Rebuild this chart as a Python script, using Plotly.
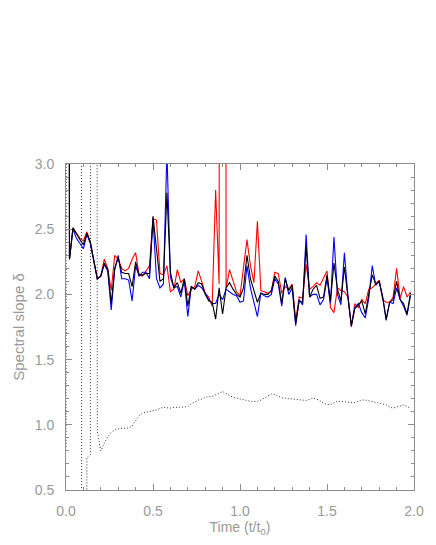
import plotly.graph_objects as go

# time grid (t/t0), one sample every 0.02
t = [0.00, 0.02, 0.04, 0.06, 0.08, 0.10, 0.12, 0.14, 0.16, 0.18,
     0.20, 0.22, 0.24, 0.26, 0.28, 0.30, 0.32, 0.34, 0.36, 0.38,
     0.40, 0.42, 0.44, 0.46, 0.48, 0.50, 0.52, 0.54, 0.56, 0.58,
     0.60, 0.62, 0.64, 0.66, 0.68, 0.70, 0.72, 0.74, 0.76, 0.78,
     0.80, 0.82, 0.84, 0.86, 0.88, 0.90, 0.92, 0.94, 0.96, 0.98,
     1.00, 1.02, 1.04, 1.06, 1.08, 1.10, 1.12, 1.14, 1.16, 1.18,
     1.20, 1.22, 1.24, 1.26, 1.28, 1.30, 1.32, 1.34, 1.36, 1.38,
     1.40, 1.42, 1.44, 1.46, 1.48, 1.50, 1.52, 1.54, 1.56, 1.58,
     1.60, 1.62, 1.64, 1.66, 1.68, 1.70, 1.72, 1.74, 1.76, 1.78,
     1.80, 1.82, 1.84, 1.86, 1.88, 1.90, 1.92, 1.94, 1.96, 1.98]

slope_black = [40.0, 2.27, 2.51, 2.46, 2.42, 2.38, 2.47, 2.40, 2.25, 2.12,
               2.14, 2.24, 2.19, 1.93, 2.20, 2.28, 2.17, 2.16, 2.16, 2.06,
               2.25, 2.15, 2.15, 2.16, 2.16, 2.60, 2.35, 2.10, 2.12, 2.78,
               2.17, 2.05, 2.09, 2.01, 2.12, 1.91, 2.06, 2.04, 2.09, 2.08,
               2.00, 1.95, 1.94, 1.81, 2.05, 1.85, 2.05, 2.09, 2.04, 2.00,
               1.98, 2.05, 2.30, 2.12, 2.03, 1.94, 2.01, 2.00, 2.00, 2.03,
               2.14, 2.10, 1.93, 2.12, 2.03, 2.07, 1.78, 1.95, 1.94, 2.37,
               1.98, 2.04, 2.07, 1.97, 1.98, 2.15, 1.95, 2.24, 2.04, 1.95,
               2.21, 1.99, 1.76, 1.89, 1.92, 1.95, 1.85, 1.99, 2.15, 2.08,
               2.10, 1.98, 1.81, 1.94, 1.96, 2.10, 1.96, 1.93, 1.85, 2.01]

slope_red = [40.0, 2.27, 2.51, 2.47, 2.43, 2.41, 2.48, 2.40, 2.25, 2.12,
             2.14, 2.27, 2.20, 2.03, 2.30, 2.27, 2.20, 2.18, 2.20, 2.27,
             2.32, 2.15, 2.14, 2.18, 2.22, 2.58, 2.57, 2.16, 2.15, 2.22,
             2.02, 2.04, 2.19, 2.09, 2.12, 1.99, 2.04, 2.06, 2.18, 2.10,
             2.01, 1.98, 1.91, 2.80, 2.08, 40.0, 2.05, 2.19, 2.10, 2.02,
             1.99, 2.20, 2.42, 2.22, 2.09, 2.56, 2.03, 2.02, 2.01, 2.02,
             2.17, 2.16, 2.01, 2.06, 2.04, 2.08, 1.80, 1.98, 1.97, 2.23,
             2.04, 2.06, 2.09, 2.07, 2.12, 2.18, 1.90, 1.86, 2.05, 2.03,
             2.02, 1.98, 1.75, 1.93, 1.90, 1.96, 1.93, 2.04, 2.05, 2.08,
             2.11, 1.96, 1.94, 1.94, 1.98, 2.20, 1.97, 2.06, 1.98, 2.02]

slope_blue = [40.0, 2.27, 2.50, 2.43, 2.39, 2.35, 2.46, 2.39, 2.25, 2.12,
              2.14, 2.23, 2.18, 1.88, 2.19, 2.30, 2.12, 2.12, 2.11, 1.95,
              2.22, 2.14, 2.17, 2.17, 2.12, 2.58, 2.12, 2.05, 2.08, 3.10,
              2.13, 2.05, 2.06, 1.98, 2.11, 1.83, 2.06, 2.04, 2.07, 2.05,
              2.01, 1.96, 1.93, 1.93, 2.00, 1.96, 2.04, 2.02, 2.00, 1.99,
              1.94, 1.95, 2.22, 2.05, 1.95, 1.83, 2.01, 1.99, 1.98, 2.00,
              2.12, 2.08, 1.91, 2.13, 2.00, 2.05, 1.76, 1.96, 1.92, 2.46,
              1.98, 2.00, 2.00, 1.92, 1.96, 2.12, 1.93, 2.44, 2.00, 1.92,
              2.32, 1.99, 1.76, 1.90, 1.93, 1.86, 1.82, 1.97, 2.22, 2.07,
              2.10, 1.98, 1.80, 1.94, 1.93, 2.05, 1.96, 1.91, 1.84, 1.99]

slope_dotted = [0.83, 40.0, 40.0, 40.0, 40.0, -40.0, 0.75, 0.77, 40.0, 0.95,
                0.80, 0.86, 0.91, 0.94, 0.96, 0.97, 0.975, 0.975, 0.975, 0.99,
                1.03, 1.07, 1.09, 1.095, 1.10, 1.105, 1.115, 1.125, 1.136, 1.13,
                1.128, 1.133, 1.136, 1.136, 1.136, 1.14, 1.16, 1.175, 1.19, 1.197,
                1.21, 1.216, 1.218, 1.23, 1.24, 1.255, 1.24, 1.225, 1.21, 1.205,
                1.198, 1.192, 1.185, 1.18, 1.18, 1.18, 1.19, 1.203, 1.22, 1.235,
                1.232, 1.22, 1.207, 1.203, 1.20, 1.20, 1.197, 1.193, 1.19, 1.187,
                1.195, 1.205, 1.197, 1.185, 1.165, 1.157, 1.155, 1.165, 1.18, 1.178,
                1.175, 1.172, 1.168, 1.17, 1.18, 1.19, 1.19, 1.183, 1.178, 1.172,
                1.167, 1.16, 1.154, 1.135, 1.128, 1.135, 1.141, 1.152, 1.14, 1.125]

AX = "#8c8c8c"
TXT = "#999999"
FONT = dict(family="Liberation Sans", size=14, color=TXT)

fig = go.Figure()
fig.add_trace(go.Scatter(x=t, y=slope_dotted, mode="lines",
    line=dict(color="#333333", width=1, dash="1px,2px")))
fig.add_trace(go.Scatter(x=t, y=slope_red, mode="lines",
    line=dict(color="#ff0000", width=1.1)))
fig.add_trace(go.Scatter(x=t, y=slope_blue, mode="lines",
    line=dict(color="#0000ff", width=1.1)))
fig.add_trace(go.Scatter(x=t, y=slope_black, mode="lines",
    line=dict(color="#000000", width=1.1)))

axis = dict(showline=True, linecolor=AX, linewidth=1, mirror="allticks",
            ticks="inside", ticklen=6, tickcolor=AX, showgrid=False,
            zeroline=False, tickfont=FONT, automargin=False,
            ticklabelstandoff=8,
            minor=dict(ticks="inside", ticklen=3, tickcolor=AX, dtick=0.1))

fig.update_layout(
    width=436, height=545, showlegend=False,
    paper_bgcolor="white", plot_bgcolor="white",
    font=FONT,
    margin=dict(l=66, r=22, t=164, b=55),
    xaxis=dict(range=[0, 2], dtick=0.5, tickformat=".1f",
               title=dict(text="Time (t/t<sub>0</sub>)", font=FONT, standoff=2),
               **axis),
    yaxis=dict(range=[0.5, 3.0], dtick=0.5, tickformat=".1f",
               title=dict(text="Spectral slope δ",
                          font=dict(FONT, size=15), standoff=6),
               **axis),
)

fig.write_html("out.html", config={"displayModeBar": False},
               post_script="document.body.style.margin='0';")
